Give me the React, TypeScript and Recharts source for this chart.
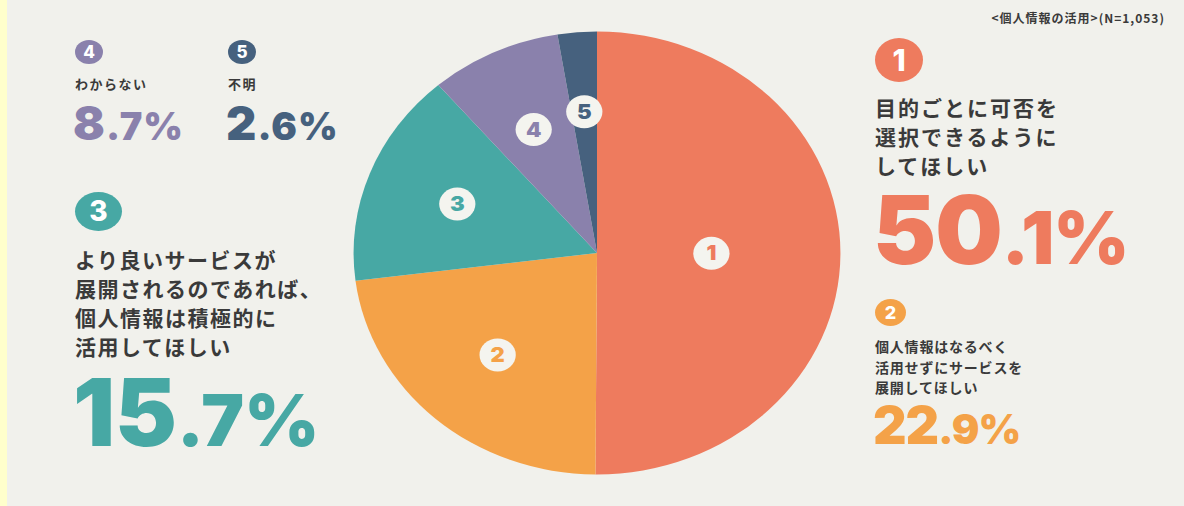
import React from "react";
import { Cell, Pie, PieChart } from "recharts";

// 回答番号・割合・回答文（行ごと）
const answerNos = ["1", "2", "3", "4", "5"];
const shares = [50.1, 22.9, 15.7, 8.7, 2.6];
const answerLines = [
  ["目的ごとに可否を", "選択できるように", "してほしい"],
  ["個人情報はなるべく", "活用せずにサービスを", "展開してほしい"],
  ["より良いサービスが", "展開されるのであれば、", "個人情報は積極的に", "活用してほしい"],
  ["わからない"],
  ["不明"],
];
const sliceColors = ["#EE7B5E", "#F4A248", "#47A8A4", "#8A81AC", "#46617E"];
const caption = "<個人情報の活用>(N=1,053)";

const pieData = answerNos.map((no, i) => ({ name: no, value: shares[i] }));

const JP = "'Noto Sans CJK JP', 'Noto Sans', sans-serif";
const NUM = "Inter, Roboto, 'DejaVu Sans', sans-serif";
const TEXT = "#3A3A3A";
const BG = "#F1F1EC";
const RADIAN = Math.PI / 180;

// -------------------------
// 円の中の番号ラベル
// -------------------------
function SliceLabel(props: any) {
  const { cx, cy, midAngle, outerRadius, index } = props;
  const k = index === 0 ? 0.47 : index === 4 ? 0.64 : 0.615;
  const r = outerRadius * k;
  const x = cx + r * Math.cos(-midAngle * RADIAN);
  const y = cy + r * Math.sin(-midAngle * RADIAN);
  return (
    <g>
      <circle cx={x} cy={y} r={16.5} fill="#F4F4EF" />
      <text
        x={x}
        y={y}
        dy={7}
        textAnchor="middle"
        fontFamily={NUM}
        fontWeight={900}
        fontSize={20}
        fill={sliceColors[index]}
      >
        {answerNos[index]}
      </text>
    </g>
  );
}

type CalloutProps = {
  i: number;
  x: number;
  badge: { w: number; h: number; top: number; fs: number };
  text: { fs: number; lh: number; top: number; ls: number };
  // top = 数字の上端（キャップハイト）
  big: { fs: number; small: number; top: number; ls: number };
};

function Callout({ i, x, badge, text, big }: CalloutProps) {
  const color = sliceColors[i];
  const [intPart, decPart] = shares[i].toFixed(1).split(".");
  // line-height ≒ cap height にして、箱を数字の高さに合わせる
  const capBox = (fs: number): React.CSSProperties => ({
    display: "inline-block",
    fontSize: fs,
    lineHeight: `${fs * 0.73}px`,
    verticalAlign: "baseline",
  });
  return (
    <>
      <div
        style={{
          position: "absolute",
          left: x,
          top: badge.top,
          width: badge.w,
          height: badge.h,
          borderRadius: "50%",
          background: color,
          color: "#FFFFFF",
          fontFamily: NUM,
          fontWeight: 800,
          fontSize: badge.fs,
          lineHeight: `${badge.h}px`,
          textAlign: "center",
        }}
      >
        {answerNos[i]}
      </div>
      <div
        style={{
          position: "absolute",
          left: x,
          top: text.top,
          fontFamily: JP,
          fontWeight: 700,
          fontSize: text.fs,
          lineHeight: `${text.lh}px`,
          letterSpacing: text.ls,
          color: TEXT,
          whiteSpace: "nowrap",
        }}
      >
        {answerLines[i].map((l) => (
          <div key={l}>{l}</div>
        ))}
      </div>
      <div
        style={{
          position: "absolute",
          left: x - 2,
          top: big.top,
          fontFamily: NUM,
          fontWeight: 900,
          fontSize: 0,
          lineHeight: 0,
          color,
          letterSpacing: big.ls,
          whiteSpace: "nowrap",
        }}
      >
        <span style={capBox(big.fs)}>{intPart}</span>
        <span style={capBox(big.small)}>.{decPart}%</span>
      </div>
    </>
  );
}

export default function App() {
  return (
    <div
      style={{
        position: "fixed",
        left: 0,
        top: 0,
        width: 1184,
        height: 506,
        background: BG,
        overflow: "hidden",
      }}
    >
      <div
        style={{
          position: "absolute",
          left: 0,
          top: 0,
          width: 7,
          height: 506,
          background: "#FFFFCC",
        }}
      />

      <div
        style={{
          position: "absolute",
          right: 19,
          top: 9,
          fontFamily: JP,
          fontWeight: 700,
          fontSize: 12,
          letterSpacing: 1,
          color: TEXT,
          whiteSpace: "nowrap",
        }}
      >
        {caption}
      </div>

      {/* 円グラフ（横に少し伸ばす） */}
      <div
        style={{
          position: "absolute",
          left: 596.5 - 222,
          top: 252.5 - 222,
          width: 444,
          height: 444,
          transform: "scaleX(1.099)",
          transformOrigin: "50% 50%",
        }}
      >
        <PieChart width={444} height={444}>
          <Pie
            data={pieData}
            dataKey="value"
            cx="50%"
            cy="50%"
            outerRadius={221.5}
            startAngle={90}
            endAngle={-270}
            stroke="none"
            isAnimationActive={false}
            labelLine={false}
            label={SliceLabel}
          >
            {pieData.map((d, i) => (
              <Cell key={d.name} fill={sliceColors[i]} />
            ))}
          </Pie>
        </PieChart>
      </div>

      <Callout
        i={0}
        x={875}
        badge={{ w: 48, h: 44, top: 38, fs: 30 }}
        text={{ fs: 21, lh: 29, top: 92.5, ls: 2 }}
        big={{ fs: 95, small: 73, top: 195, ls: -1 }}
      />
      <Callout
        i={1}
        x={875}
        badge={{ w: 31, h: 27, top: 299, fs: 18 }}
        text={{ fs: 14, lh: 20.5, top: 336, ls: 0.8 }}
        big={{ fs: 52, small: 41, top: 407, ls: -1 }}
      />
      <Callout
        i={2}
        x={75}
        badge={{ w: 47, h: 39, top: 192, fs: 28 }}
        text={{ fs: 21, lh: 29, top: 245, ls: 1.5 }}
        big={{ fs: 93, small: 72, top: 379, ls: 0 }}
      />
      <Callout
        i={3}
        x={75}
        badge={{ w: 28, h: 24, top: 40, fs: 17 }}
        text={{ fs: 13, lh: 16, top: 76, ls: 1.5 }}
        big={{ fs: 47, small: 38, top: 105.5, ls: 1 }}
      />
      <Callout
        i={4}
        x={228}
        badge={{ w: 28, h: 24, top: 40, fs: 17 }}
        text={{ fs: 13, lh: 16, top: 76, ls: 1.5 }}
        big={{ fs: 47, small: 38, top: 105.5, ls: 1 }}
      />
    </div>
  );
}
